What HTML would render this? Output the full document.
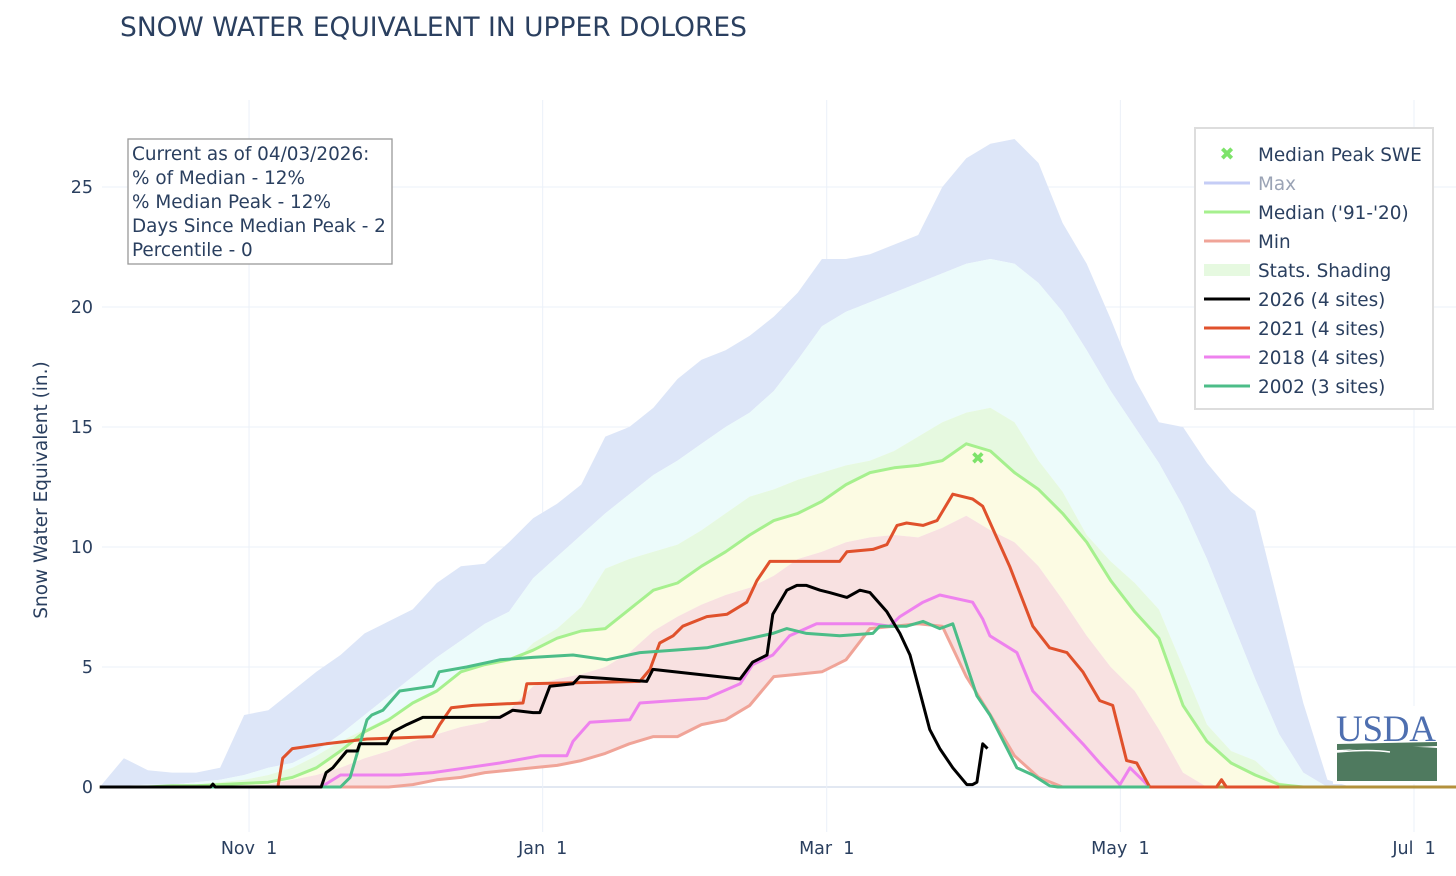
<!DOCTYPE html>
<html><head><meta charset="utf-8">
<style>
html,body{margin:0;padding:0;background:#fff;}
body{width:1456px;height:872px;overflow:hidden;font-family:"DejaVu Sans","Liberation Sans",sans-serif;}
svg text{font-family:"DejaVu Sans","Liberation Sans",sans-serif;fill:#2a3f5f;}
</style></head>
<body>
<svg id="chart" width="1456" height="872" xmlns="http://www.w3.org/2000/svg">
<text x="120" y="36" font-size="26.5">SNOW WATER EQUIVALENT IN UPPER DOLORES</text>
<g id="grid"></g>
<g id="bands"></g>
<g id="lines"></g>
<g id="axes"></g>
<text transform="translate(47,490) rotate(-90)" text-anchor="middle" font-size="18.5">Snow Water Equivalent (in.)</text>
<g>
<rect x="128" y="139" width="264" height="125" fill="#fff" stroke="#999" stroke-width="1.3"/>
<text x="132" y="160" font-size="18.4">Current as of 04/03/2026:</text>
<text x="132" y="184" font-size="18.4">% of Median - 12%</text>
<text x="132" y="208" font-size="18.4">% Median Peak - 12%</text>
<text x="132" y="232" font-size="18.4">Days Since Median Peak - 2</text>
<text x="132" y="256" font-size="18.4">Percentile - 0</text>
</g>
<g>
<rect x="1195" y="128" width="238" height="281" fill="#fff" stroke="#ddd" stroke-width="2"/>
<g><text x="1227" y="160" font-size="18" text-anchor="middle" style="fill:#7de36a;font-weight:bold">✖</text><text x="1258" y="161" font-size="18.4">Median Peak SWE</text></g>
<g><line x1="1204" x2="1250" y1="183" y2="183" stroke="#c5cdf6" stroke-width="3"/><text x="1258" y="190" font-size="18.4" style="fill:#9aa3b5">Max</text></g>
<g><line x1="1204" x2="1250" y1="212" y2="212" stroke="#a6f08e" stroke-width="3"/><text x="1258" y="219" font-size="18.4">Median ('91-'20)</text></g>
<g><line x1="1204" x2="1250" y1="241" y2="241" stroke="#f0a498" stroke-width="3"/><text x="1258" y="248" font-size="18.4">Min</text></g>
<g><rect x="1204" y="264" width="46" height="12" fill="#e6f9e0"/><text x="1258" y="277" font-size="18.4">Stats. Shading</text></g>
<g><line x1="1204" x2="1250" y1="299" y2="299" stroke="#000" stroke-width="3"/><text x="1258" y="306" font-size="18.4">2026 (4 sites)</text></g>
<g><line x1="1204" x2="1250" y1="328" y2="328" stroke="#e0512c" stroke-width="3"/><text x="1258" y="335" font-size="18.4">2021 (4 sites)</text></g>
<g><line x1="1204" x2="1250" y1="357" y2="357" stroke="#ee82ee" stroke-width="3"/><text x="1258" y="364" font-size="18.4">2018 (4 sites)</text></g>
<g><line x1="1204" x2="1250" y1="386" y2="386" stroke="#4cbd88" stroke-width="3"/><text x="1258" y="393" font-size="18.4">2002 (3 sites)</text></g>
</g>
<g>
<rect x="1333" y="706" width="106" height="78" fill="#fff"/>
<text x="1386" y="741" font-size="37" text-anchor="middle" style="fill:#4e6fb0;font-family:'Liberation Serif',serif" textLength="100">USDA</text>
<path d="M1337,744 L1437,742 L1437,746 L1337,750 Z" fill="#4f7a5f"/>
<path d="M1337,752 Q1380,744 1437,748 L1437,781 L1337,781 Z" fill="#4f7a5f"/>
<path d="M1337,752 Q1370,749 1390,752" stroke="#fff" stroke-width="1.5" fill="none"/>
</g>
</svg>
<script>
// Shared 5-day grid (days since Oct 1)
const bandDays = [0,5,10,15,20,25,30,35,40,45,50,55,60,65,70,75,80,85,90,95,100,105,110,115,120,125,130,135,140,145,150,155,160,165,170,175,180,185,190,195,200,205,210,215,220,225,230,235,240,245,250,255,260,265,270,275,280,282];
const maxVals = [0,1.2,0.7,0.6,0.6,0.8,3.0,3.2,4.0,4.8,5.5,6.4,6.9,7.4,8.5,9.2,9.3,10.2,11.2,11.8,12.6,14.6,15,15.8,17,17.8,18.2,18.8,19.6,20.6,22,22,22.2,22.6,23,25,26.2,26.8,27,26,23.5,21.8,19.5,17,15.2,15,13.5,12.3,11.5,7.5,3.5,0.3,0,0,0,0,0,0];
const p90Vals = [0,0.05,0.1,0.1,0.2,0.3,0.5,0.8,1.0,1.5,2.2,3.0,3.8,4.6,5.4,6.1,6.8,7.3,8.7,9.6,10.5,11.4,12.2,13,13.6,14.3,15,15.6,16.5,17.8,19.2,19.8,20.2,20.6,21,21.4,21.8,22,21.8,21,19.8,18.2,16.5,15,13.5,11.7,9.5,7,4.5,2.2,0.6,0,0,0,0,0,0,0];
const p70Vals = [0,0,0,0.05,0.1,0.2,0.3,0.5,0.8,1.3,1.9,2.4,2.9,3.1,3.4,3.9,4.4,5.0,6.0,6.6,7.5,9.1,9.5,9.8,10.1,10.7,11.4,12.1,12.4,12.8,13.1,13.4,13.6,14,14.6,15.2,15.6,15.8,15.2,13.6,12.3,10.5,9.4,8.5,7.4,5,2.6,1.5,1.1,0.2,0,0,0,0,0,0,0,0];
const medianVals = [0,0,0,0.05,0.05,0.1,0.15,0.2,0.4,0.8,1.5,2.3,2.8,3.5,4.0,4.8,5.1,5.3,5.7,6.2,6.5,6.6,7.4,8.2,8.5,9.2,9.8,10.5,11.1,11.4,11.9,12.6,13.1,13.3,13.4,13.6,14.3,14.0,13.1,12.4,11.4,10.2,8.6,7.3,6.2,3.4,1.9,1.0,0.5,0.1,0,0,0,0,0,0,0,0];
const p30Vals = [0,0,0,0,0,0,0.05,0.1,0.3,0.5,0.8,1.2,1.5,1.9,2.2,2.5,2.7,3.2,4.2,4.5,4.7,5,5.6,6.5,7.1,7.6,8.0,8.3,8.8,9.5,9.8,10.2,10.4,10.5,10.4,10.8,11.3,10.7,10.2,9.2,7.8,6.3,5,4,2.4,0.6,0,0,0,0,0,0,0,0,0,0,0,0];
const minVals = [0,0,0,0,0,0,0,0,0,0,0,0,0,0.1,0.3,0.4,0.6,0.7,0.8,0.9,1.1,1.4,1.8,2.1,2.1,2.6,2.8,3.4,4.6,4.7,4.8,5.3,6.6,6.7,6.8,6.7,4.6,3.0,1.3,0.4,0,0,0,0,0,0,0,0,0,0,0,0,0,0,0,0,0,0];
const peakDay = 182.4, peakVal = 13.75;

const days2026 = [0,23,23.5,24,46,47,48.4,51.3,53.5,54,59.6,60.9,63.8,67.1,83.1,85.8,90,91.4,93.5,98.3,99.7,113.6,114.9,133,135.6,138.6,139.8,142.7,144.8,146.8,149.6,151.6,155.2,157.9,160,163.5,166.2,168.3,170.3,172.4,174.5,177.2,180.1,181.3,182.2,183.4,184.4];
const vals2026 = [0,0,0.12,0,0,0.6,0.8,1.5,1.5,1.8,1.8,2.3,2.6,2.9,2.9,3.2,3.1,3.1,4.2,4.3,4.6,4.4,4.9,4.5,5.2,5.5,7.2,8.2,8.4,8.4,8.2,8.1,7.9,8.2,8.1,7.3,6.4,5.5,4,2.4,1.6,0.8,0.1,0.1,0.2,1.8,1.6];
const days2021 = [0,37,38,40,47,55.5,69.2,70.6,73,77.5,87.9,88.7,112.2,114.3,116.3,119.1,121.1,126.1,130.3,134.4,136.5,139.2,153.7,155.2,160.6,163.5,165.6,167.6,171,173.9,177.2,181.3,183.4,189,193.8,197.3,200.9,204.2,207.7,210.4,213.3,215.4,218.1,232,233,234,245];
const vals2021 = [0,0,1.2,1.6,1.8,2.0,2.1,2.6,3.3,3.4,3.5,4.3,4.4,4.9,6.0,6.3,6.7,7.1,7.2,7.7,8.6,9.4,9.4,9.8,9.9,10.1,10.9,11,10.9,11.1,12.2,12,11.7,9.2,6.7,5.8,5.6,4.8,3.6,3.4,1.1,1.0,0,0,0.3,0,0];
const days2018 = [0,46,50,62.3,69.2,76.2,83.1,91.4,97,98.3,101.8,110.1,112.2,126.1,133,135.6,139.8,143.3,148.9,160.6,164.1,166.2,171,174.5,181.3,183.4,184.9,190.5,193.8,200.9,204.2,207.7,211.9,214,218.1,240];
const vals2018 = [0,0,0.5,0.5,0.6,0.8,1.0,1.3,1.3,1.9,2.7,2.8,3.5,3.7,4.3,5.1,5.5,6.3,6.8,6.8,6.7,7.1,7.7,8,7.7,7,6.3,5.6,4,2.5,1.8,1,0.1,0.8,0,0];
const days2002 = [0,50,52,55.5,56.5,58.8,62.3,69.2,70.5,76.2,83.1,89.9,98.3,105.3,112.2,119.1,126.1,133,139.8,142.7,146.8,153.7,160.6,162,167.6,171,174.5,177.2,182.2,184.9,190.5,193.8,197.3,199,230];
const vals2002 = [0,0,0.4,2.8,3.0,3.2,4.0,4.2,4.8,5.0,5.3,5.4,5.5,5.3,5.6,5.7,5.8,6.1,6.4,6.6,6.4,6.3,6.4,6.7,6.7,6.9,6.6,6.8,3.8,3.0,0.8,0.5,0.05,0,0];
const yTicks = [0,5,10,15,20,25];
const xTickLabels = ["Nov  1","Jan  1","Mar  1","May  1","Jul  1"];
const xTickDays = [31,92,151,212,273];

const NS = "http://www.w3.org/2000/svg";
const X0 = 99.8, PXD = 4.814, Y0 = 787, PXV = 24, LEFT = 102, RIGHT = 1456;
function xs(d){ return X0 + d*PXD; }
function ys(v){ return Y0 - v*PXV; }
function mk(tag, attrs, parent){ const e = document.createElementNS(NS, tag); for (const k in attrs) e.setAttribute(k, attrs[k]); parent.appendChild(e); return e; }

const grid = document.getElementById('grid');
yTicks.forEach(function(t){
  const l = mk('line', {x1:LEFT, x2:RIGHT, y1:ys(t), y2:ys(t), stroke: t===0 ? '#e2e8f2' : '#ebf0f8', 'stroke-width': t===0 ? 2 : 1}, grid);
  
  
});
xTickDays.forEach(function(d){
  const l = mk('line', {x1:xs(d), x2:xs(d), y1:100, y2:832, stroke:'#ebf0f8', 'stroke-width':1}, grid);
  
  
});

const bands = document.getElementById('bands');
function band(upper, lower, color, name){
  let d = '';
  bandDays.forEach(function(day, i){ d += (i ? 'L' : 'M') + xs(day).toFixed(1) + ',' + ys(upper[i]).toFixed(1); });
  for (let i = bandDays.length-1; i >= 0; i--) d += 'L' + xs(bandDays[i]).toFixed(1) + ',' + ys(lower[i]).toFixed(1);
  const p = mk('path', {d: d + 'Z', fill: color, stroke: 'none'}, bands);
  
  
}
band(maxVals, p90Vals, '#dde6f8', 'band-max-p90');
band(p90Vals, p70Vals, '#ecfbfb', 'band-p90-p70');
band(p70Vals, medianVals, '#e6f9e0', 'band-p70-median');
band(medianVals, p30Vals, '#fcfbe3', 'band-median-p30');
band(p30Vals, minVals, '#f8e1e1', 'band-p30-min');

const lines = document.getElementById('lines');
function line(days, vals, color, name, w){
  let d = '';
  days.forEach(function(day, i){ d += (i ? 'L' : 'M') + xs(day).toFixed(1) + ',' + ys(vals[i]).toFixed(1); });
  const p = mk('path', {d: d, fill: 'none', stroke: color, 'stroke-width': w || 3, 'stroke-linejoin': 'round'}, lines);
  
  
}
line(bandDays, medianVals, '#a6f08e', 'median-line');
line(bandDays, minVals, '#f0a498', 'min-line');
line(days2018, vals2018, '#ee82ee', 'line-2018');
line(days2021, vals2021, '#e0512c', 'line-2021');
line(days2002, vals2002, '#4cbd88', 'line-2002');
const zl = mk('line', {x1: xs(218), x2: RIGHT, y1: ys(0), y2: ys(0), stroke: '#b3913c', 'stroke-width': 3}, lines);


line(days2021.slice(-5), vals2021.slice(-5), '#e0512c', 'line-2021-tail');
line(days2026, vals2026, '#000', 'line-2026');
const pk = mk('text', {x: xs(peakDay), y: ys(peakVal) + 7, 'text-anchor': 'middle', 'font-size': 17, style: 'fill:#7de36a;font-weight:bold'}, lines);
pk.textContent = '✖';



const axes = document.getElementById('axes');
yTicks.forEach(function(t){
  const tx = mk('text', {x: 93, y: ys(t) + 6, 'text-anchor': 'end', 'font-size': 17.5}, axes);
  tx.textContent = t;
  
  
});
xTickDays.forEach(function(d, i){
  const tx = mk('text', {x: xs(d), y: 854, 'text-anchor': 'middle', 'font-size': 17.5, style: 'white-space:pre'}, axes);
  tx.textContent = xTickLabels[i];
  
  
});
</script>
</body></html>
